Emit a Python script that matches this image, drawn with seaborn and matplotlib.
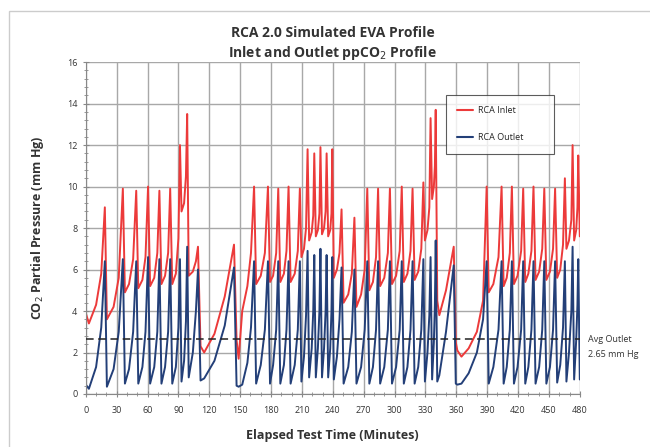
import numpy as np
import pandas as pd
import seaborn as sns
import matplotlib.pyplot as plt
from matplotlib.patches import Rectangle
from matplotlib.ticker import MultipleLocator

# elapsed time (min) of the points
time_min = [
    0, 3, 10, 15, 18.5, 20.5, 27, 32, 36, 38, 42, 46, 49, 51, 55, 58,
    60.5, 62.5, 66.5, 69.5, 71.5, 73.5, 77, 80, 82, 84, 87.5, 90,
    91.5, 93, 95.5, 97.3, 98.5, 100, 104, 107, 109, 111.5, 115, 125, 135,
    144, 146.5, 148.5, 152, 157, 160.5, 163.5, 165.5, 170, 174,
    177, 179, 182, 185, 187, 189, 192.5, 195, 197, 199, 203, 206,
    208, 209.5, 212, 214, 215.5, 217, 219.5, 221, 222, 223.5, 225.5, 227,
    228, 229.5, 231.5, 233, 234, 235.5, 237.5, 238.7, 239.5, 241, 244, 246.5,
    248.5, 250.5, 255, 258.5, 261, 263, 267.5, 271, 273.5, 275.5, 279, 282,
    284, 286, 290, 293.5, 295.5, 297.5, 301.5, 305, 307, 309, 312.5, 315.5,
    317.5, 319.5, 323, 326, 328, 329.5, 332, 333.8, 335, 336.5, 338.2, 339.2,
    340, 341.5, 343.5, 350, 357.5, 359.5, 361, 365, 372, 380, 386,
    389.5, 391.5, 396, 401, 404, 406, 409, 412, 414, 416, 419.5, 423,
    425, 427, 430, 433, 435, 437, 440.5, 443.5, 445.5, 447.5, 451, 454,
    456, 458, 461, 463.7, 465.5, 467, 469.5, 471.8, 473, 474.5, 476.5, 477.7,
    478.5, 480,
]

# RCA inlet ppCO2 (mm Hg)
inlet = [
    3.9, 3.4, 4.3, 5.8, 9.0, 3.6, 4.2, 5.6, 9.9, 4.9, 5.3, 6.5, 9.8, 5.1, 5.5, 6.6,
    10.0, 5.2, 5.6, 6.8, 9.8, 5.3, 5.7, 6.8, 9.9, 5.3, 5.8, 7.5,
    12.0, 8.8, 9.2, 10.5, 13.5, 5.7, 5.9, 6.4, 7.1, 2.3, 2.0, 2.9, 4.7,
    7.2, 2.6, 1.7, 4.0, 5.2, 6.8, 10.0, 5.3, 5.7, 6.8,
    10.0, 5.4, 5.7, 6.8, 9.9, 5.4, 5.8, 6.9, 10.0, 5.4, 5.8, 6.9,
    9.9, 6.6, 7.0, 8.0, 11.8, 7.4, 7.8, 8.6, 11.6, 7.6, 7.9, 8.7,
    11.9, 7.7, 8.0, 8.8, 11.6, 7.6, 7.9, 8.7, 11.8, 5.6, 6.0, 6.8,
    8.9, 4.4, 4.8, 5.8, 8.5, 4.2, 4.8, 6.0, 9.9, 5.0, 5.4, 6.6,
    9.9, 5.2, 5.6, 6.8, 9.9, 5.3, 5.7, 6.9, 10.0, 5.4, 5.8, 6.9,
    9.9, 5.5, 5.9, 7.0, 10.2, 7.4, 7.9, 9.0, 13.3, 9.4, 10.0, 11.0,
    13.7, 4.5, 3.8, 5.0, 7.1, 2.5, 2.1, 1.8, 2.2, 3.0, 4.5,
    10.0, 4.9, 5.3, 6.6, 10.0, 5.2, 5.6, 6.8, 10.0, 5.3, 5.7, 6.9,
    9.9, 5.4, 5.8, 6.9, 10.0, 5.5, 5.9, 7.0, 9.9, 5.5, 5.9, 7.0,
    9.9, 5.6, 6.0, 7.2, 10.4, 7.0, 7.4, 8.4, 12.0, 7.4, 7.9, 9.0,
    11.5, 7.6,
]

# RCA outlet ppCO2 (mm Hg)
outlet = [
    0.45, 0.25, 1.3, 3.2, 6.4, 0.35, 1.2, 3.0, 6.5, 0.5, 1.2, 3.0, 6.4, 0.5, 1.3, 3.0,
    6.6, 0.5, 1.3, 3.0, 6.5, 0.5, 1.3, 3.0, 6.5, 0.5, 1.3, 3.2,
    6.5, 0.6, 1.6, 3.5, 7.1, 0.8, 2.0, 4.0, 6.0, 0.65, 0.75, 1.6, 3.3,
    6.1, 0.4, 0.35, 0.45, 1.5, 3.2, 6.4, 0.5, 1.4, 3.1,
    6.4, 0.5, 1.4, 3.1, 6.4, 0.5, 1.4, 3.1, 6.4, 0.5, 1.4, 3.1,
    6.4, 0.6, 1.8, 3.8, 6.9, 0.8, 2.2, 4.0, 6.7, 0.8, 2.2, 4.0,
    7.0, 0.8, 2.2, 4.0, 6.7, 0.8, 2.2, 4.0, 6.6, 0.7, 1.8, 3.6,
    6.1, 0.5, 1.3, 3.0, 6.0, 0.5, 1.3, 3.1, 6.4, 0.5, 1.3, 3.1,
    6.4, 0.5, 1.3, 3.1, 6.4, 0.5, 1.3, 3.1, 6.4, 0.5, 1.3, 3.1,
    6.4, 0.5, 1.3, 3.1, 6.5, 0.6, 2.0, 3.8, 6.6, 0.7, 2.5, 4.3,
    7.4, 0.6, 0.9, 3.0, 6.2, 0.5, 0.45, 0.5, 1.0, 2.0, 3.6,
    6.4, 0.5, 1.3, 3.1, 6.4, 0.5, 1.3, 3.1, 6.4, 0.5, 1.3, 3.1,
    6.4, 0.5, 1.3, 3.1, 6.4, 0.5, 1.3, 3.1, 6.4, 0.5, 1.3, 3.1,
    6.4, 0.55, 1.4, 3.2, 6.4, 0.6, 2.0, 4.0, 7.1, 0.7, 2.6, 4.3,
    6.5, 0.7,
]

avg_outlet = 2.65

df = pd.concat([
    pd.DataFrame({"t": time_min, "pp": inlet, "series": "RCA Inlet"}),
    pd.DataFrame({"t": time_min, "pp": outlet, "series": "RCA Outlet"}),
])

sns.set_style("white")
plt.rcParams["font.family"] = ["Open Sans", "DejaVu Sans"]

fig = plt.figure(figsize=(6.5, 4.47), dpi=100)
ax = fig.add_axes([0.132, 0.1186, 0.76, 0.7424])

sns.lineplot(data=df, x="t", y="pp", hue="series", estimator=None, sort=False,
             palette={"RCA Inlet": "#ec3a3a", "RCA Outlet": "#233f78"},
             linewidth=1.4, ax=ax)
ax.axhline(avg_outlet, color="#222222", linestyle=(0, (5, 3)), linewidth=1.1, zorder=3)

ax.set_xlim(0, 480)
ax.set_ylim(0, 16)
ax.xaxis.set_major_locator(MultipleLocator(30))
ax.xaxis.set_minor_locator(MultipleLocator(10))
ax.yaxis.set_major_locator(MultipleLocator(2))
ax.yaxis.set_minor_locator(MultipleLocator(0.4))
ax.grid(True, which="major", color="#a8a8a8", linewidth=1.0)
ax.tick_params(which="both", direction="inout", colors="#888888", labelcolor="#333333",
               labelsize=6.5, bottom=True, left=True)
ax.tick_params(which="major", length=5)
ax.tick_params(which="minor", length=3)
ax.tick_params(axis="x", pad=6)
for s in ["top", "right"]:
    ax.spines[s].set_visible(False)
for s in ["left", "bottom"]:
    ax.spines[s].set_color("#888888")

ax.set_xlabel("Elapsed Test Time (Minutes)", fontsize=9, fontweight="bold",
              color="#333333", labelpad=10)
ax.set_ylabel("CO$_2$ Partial Pressure (mm Hg)", fontsize=9, fontweight="bold",
              color="#333333", labelpad=15)
ax.set_title("RCA 2.0 Simulated EVA Profile\nInlet and Outlet ppCO$_2$ Profile",
             fontsize=10, fontweight="bold", color="#333333", linespacing=1.25, pad=4)

leg = ax.legend(loc="upper right", bbox_to_anchor=(0.948, 0.902), fontsize=6.5,
                frameon=True, fancybox=False, handlelength=1.8, labelspacing=2.0,
                borderpad=1.3, handletextpad=0.5, borderaxespad=0)
for txt in leg.get_texts():
    txt.set_text(txt.get_text() + "        ")
leg.get_frame().set_edgecolor("#333333")
leg.get_frame().set_linewidth(0.8)
for line in leg.get_lines():
    line.set_linewidth(1.5)

fig.text(0.905, 0.224, "Avg Outlet\n2.65 mm Hg", fontsize=6.5, color="#333333",
         va="center", ha="left", linespacing=1.8)

fig.patches.append(Rectangle((0.014, -0.1), 1.1, 1.075, transform=fig.transFigure,
                             fill=False, edgecolor="#cccccc", linewidth=1.0))

fig.savefig("out.png", dpi=100)
